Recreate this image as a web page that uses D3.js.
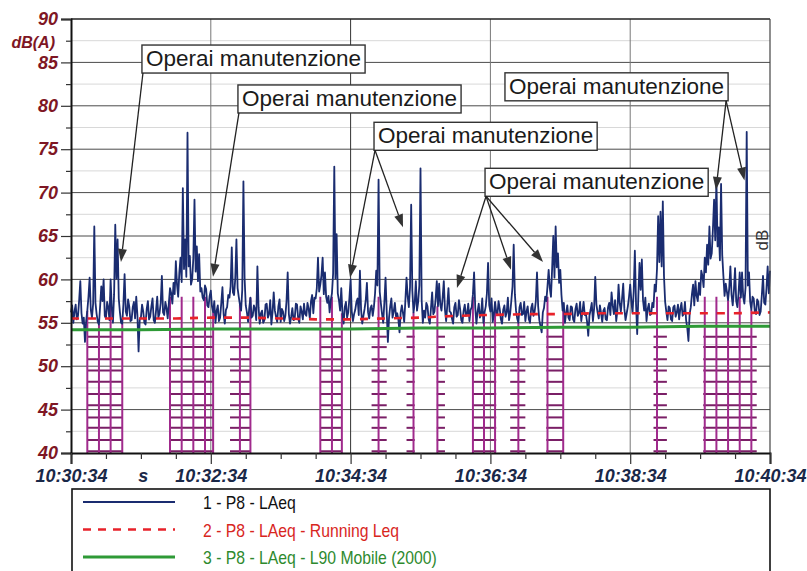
<!DOCTYPE html>
<html>
<head>
<meta charset="utf-8">
<script src="https://cdn.jsdelivr.net/npm/d3@7/dist/d3.min.js"></script>
<style>
  html, body { margin: 0; padding: 0; background: #fff; }
  svg { display: block; }
</style>
</head>
<body>
<svg id="chart" width="807" height="571"></svg>
<script>
// ---- data ---------------------------------------------------------------
// LAeq samples, one per second from 10:30:34 (20 per row)
const sampleStep = 1;
const laeq = [
  56.2, 57.0, 55.0, 56.3, 57.1, 55.4, 55.8, 57.6, 59.8, 56.1, 54.9, 55.6, 52.8, 55.2, 56.4, 58.0, 60.2, 56.5, 55.6, 57.2,
  66.1, 57.3, 56.0, 55.1, 54.8, 56.9, 59.2, 57.5, 60.0, 55.8, 55.5, 57.4, 56.8, 55.3, 60.0, 56.7, 55.0, 58.3, 66.3, 60.1,
  64.6, 57.8, 56.2, 55.0, 54.9, 57.2, 60.6, 56.3, 55.8, 57.7, 56.9, 55.2, 55.3, 56.8, 57.4, 55.5, 58.0, 55.9, 51.7, 55.4,
  55.6, 57.1, 56.3, 55.0, 54.8, 56.6, 57.5, 55.4, 55.7, 56.9, 57.8, 55.3, 55.0, 56.4, 58.0, 55.6, 56.1, 57.3, 60.4, 56.2,
  55.9, 57.4, 56.7, 55.5, 57.3, 59.0, 58.4, 57.2, 59.6, 58.3, 62.1, 59.4, 58.0, 60.8, 62.5, 59.7, 70.5, 61.2, 64.6, 60.3,
  76.9, 61.5, 62.7, 59.4, 60.0, 62.4, 69.2, 60.9, 63.8, 59.8, 62.9, 58.6, 59.0, 57.9, 57.6, 59.3, 58.9, 57.0, 56.8, 58.1,
  58.7, 56.9, 56.2, 57.5, 55.0, 56.4, 57.0, 55.2, 55.6, 57.3, 59.1, 56.0, 54.9, 56.5, 56.8, 58.2, 57.9, 59.2, 63.7, 58.5,
  58.2, 60.1, 64.6, 59.0, 58.0, 57.1, 56.4, 58.8, 71.3, 60.2, 57.0, 56.2, 55.1, 56.7, 57.9, 55.6, 55.8, 57.0, 56.6, 55.3,
  61.5, 56.8, 54.9, 56.1, 56.4, 55.0, 55.3, 57.1, 57.2, 55.6, 56.0, 57.6, 54.8, 56.2, 58.5, 56.4, 55.7, 55.1, 56.9, 57.7,
  55.1, 56.6, 56.3, 55.2, 55.8, 57.5, 60.8, 56.0, 54.9, 55.7, 56.7, 55.3, 55.4, 57.2, 57.1, 55.5, 55.0, 56.9, 56.3, 55.4,
  57.2, 56.0, 55.8, 57.3, 56.6, 55.5, 57.5, 58.2, 56.1, 57.9, 57.8, 59.0, 62.5, 58.6, 59.4, 60.5, 62.5, 58.3, 60.8, 58.0,
  57.3, 58.1, 56.2, 57.6, 58.4, 60.7, 73.0, 60.1, 65.2, 58.4, 57.6, 56.4, 59.0, 56.1, 54.9, 56.8, 57.4, 55.6, 56.2, 57.9,
  60.0, 56.3, 55.2, 56.0, 56.5, 57.4, 57.8, 55.9, 61.0, 56.5, 54.9, 55.8, 56.6, 57.6, 59.6, 56.2, 55.5, 56.7, 57.0, 55.8,
  56.8, 58.4, 61.0, 59.3, 71.5, 58.6, 57.2, 56.0, 55.0, 57.4, 60.2, 56.3, 52.8, 55.6, 56.9, 57.8, 55.6, 56.3, 57.3, 55.7,
  56.1, 55.4, 53.9, 56.2, 57.0, 56.1, 55.1, 57.5, 60.2, 58.0, 56.8, 59.1, 68.6, 58.7, 56.2, 57.2, 59.8, 56.4, 57.4, 59.3,
  72.8, 57.6, 55.0, 56.4, 55.6, 57.3, 56.9, 55.4, 54.9, 56.7, 58.5, 56.0, 56.3, 57.8, 59.8, 56.9, 59.5, 57.1, 56.4, 57.9,
  59.8, 56.5, 55.2, 57.0, 59.0, 56.3, 56.2, 55.5, 54.9, 56.8, 57.3, 55.7, 55.9, 57.6, 56.6, 55.3, 55.0, 56.4, 57.1, 55.8,
  56.0, 57.2, 55.2, 56.5, 56.8, 58.3, 60.8, 56.7, 54.9, 56.3, 57.2, 55.6, 56.1, 57.8, 55.0, 56.2, 56.9, 58.4, 61.9, 57.0,
  56.3, 57.8, 55.1, 56.0, 57.4, 56.2, 55.9, 57.5, 56.6, 55.4, 54.9, 56.5, 57.0, 55.7, 56.2, 57.9, 55.3, 56.1, 57.6, 59.2,
  64.0, 58.3, 56.4, 55.5, 55.0, 56.8, 57.3, 55.9, 56.0, 57.4, 55.2, 56.3, 56.9, 55.4, 55.0, 56.7, 57.2, 55.8, 56.3, 57.5,
  60.8, 56.9, 55.3, 54.6, 53.9, 56.2, 56.7, 58.0, 57.5, 59.2, 61.1, 59.0, 58.0, 61.3, 65.0, 60.2, 66.1, 61.4, 63.0, 59.6,
  61.1, 58.2, 56.4, 57.3, 55.0, 56.1, 57.0, 55.6, 55.3, 56.9, 56.8, 55.4, 55.1, 56.6, 57.2, 55.8, 56.1, 57.4, 55.2, 56.3,
  57.4, 55.9, 56.0, 55.1, 53.5, 55.8, 56.5, 57.3, 55.2, 56.6, 60.3, 57.1, 56.2, 55.5, 57.0, 56.1, 55.1, 56.4, 56.7, 55.4,
  55.3, 56.8, 57.3, 55.9, 58.5, 57.0, 56.0, 57.6, 55.2, 56.4, 59.4, 57.2, 56.3, 57.8, 59.5, 56.6, 55.3, 56.1, 56.9, 58.0,
  59.4, 57.5, 56.1, 58.6, 63.3, 57.2, 53.7, 58.1, 61.9, 58.8, 62.3, 57.6, 56.4, 57.9, 55.2, 56.6, 57.2, 55.9, 56.0, 57.3,
  56.8, 59.4, 58.6, 61.2, 67.3, 62.0, 67.8, 61.5, 69.0, 60.4, 57.4, 56.3, 55.3, 56.9, 56.7, 55.4, 55.2, 56.8, 57.0, 55.7,
  56.2, 57.1, 55.4, 56.6, 57.3, 55.8, 56.0, 57.4, 55.3, 54.4, 52.9, 56.0, 56.8, 58.3, 59.4, 57.0, 59.8, 58.1, 57.5, 59.6,
  58.2, 61.0, 60.4, 59.1, 62.5, 60.8, 64.0, 61.7, 66.1, 62.4, 63.0, 65.8, 69.2, 64.5, 71.5, 63.8, 66.0, 62.2, 71.0, 62.8,
  60.4, 58.1, 59.5, 58.6, 57.6, 59.0, 61.5, 58.2, 57.0, 58.7, 61.3, 57.5, 56.8, 58.4, 60.8, 57.9, 60.8, 58.0, 57.2, 59.1,
  77.0, 59.3, 60.8, 57.4, 56.5, 58.0, 57.8, 56.2, 56.0, 57.7, 57.4, 55.9, 56.3, 58.2, 60.4, 57.3, 57.1, 59.0, 61.5, 58.4,
  61.0
];

// Running Leq, one value every 30 s
const runningStep = 30;
const runningLeq = [55.5, 55.5, 55.5, 55.5, 55.6, 55.6, 55.5, 55.4, 55.4, 55.5,
                    55.6, 55.8, 55.9, 56.0, 56.0, 56.1, 56.1, 56.1, 56.1, 56.1, 56.2];

// L90 mobile, one value every 60 s
const l90Step = 60;
const l90 = [54.2, 54.2, 54.3, 54.3, 54.3, 54.4, 54.4, 54.5, 54.5, 54.6, 54.6];

// Marked periods (seconds from 10:30:34): span and the 10 s divisions inside
const markFrom  = [14, 85, 136.5, 214, 258, 288, 314, 345, 377, 408, 500, 542.7];
const markTo    = [44, 122, 154, 232.5, 271, 295, 321, 365, 390, 423, 511.5, 588.6];
const markLines = [[14, 24, 34, 44], [85, 95, 105, 115, 122], [145, 154], [214, 224, 232.5],
                   [264], [294], [314.5], [345, 354.5, 364], [384], [409, 422.5], [503],
                   [544, 554, 564, 574, 584]];
const markRungs = [40.2, 41.5, 42.9, 44.1, 45.5, 46.8, 48.2, 49.5, 50.8, 52.2, 53.4];

// Axes
const yTicks = [40, 45, 50, 55, 60, 65, 70, 75, 80, 85, 90];
const yMinor = [42.5, 47.5, 52.5, 57.5, 62.5, 67.5, 72.5, 77.5, 82.5, 87.5];
const xTicks = [0, 120, 240, 360, 480, 600];
const xTickLabels = ["10:30:34", "10:32:34", "10:34:34", "10:36:34", "10:38:34", "10:40:34"];
const xMinor = [30, 60, 90, 150, 180, 210, 270, 300, 330, 390, 420, 450, 510, 540, 570];

// Annotations: box top-left (s, dB), arrow origin side, arrow targets (s, dB)
const noteText = "Operai manutenzione";
const noteBoxAt = [[60.9, 87.0], [143.3, 82.4], [372.5, 83.8], [260.1, 78.1], [355.4, 72.8]];
const noteFrom = ["left", "left", "right", "left", "left"];
const noteTargets = [
  [[42.9, 62.0]],
  [[121.9, 60.3]],
  [[553.6, 70.3], [578.1, 71.4]],
  [[239.5, 60.2], [285.0, 66.0]],
  [[331.3, 59.0], [377.7, 61.1], [405.2, 62.0]]
];

const legendLabels = ["1 - P8 - LAeq", "2 - P8 - LAeq - Running Leq", "3 - P8 - LAeq - L90 Mobile (2000)"];

// ---- drawing ------------------------------------------------------------
const svg = d3.select("#chart");
const x = d3.scaleLinear().domain([0, 600]).range([71, 770]);
const y = d3.scaleLinear().domain([40, 90]).range([453, 19]);

const C = {
  blue: "#1a2c70", red: "#e8222a", green: "#2e9a36",
  mark: "#a02a8c", rung: "#7a1f66",
  yLab: "#7e1624", xLab: "#1a2848"
};

// grid
const grid = svg.append("g");
grid.selectAll(".hmin").data(yMinor).join("line")
  .attr("x1", x(0)).attr("x2", x(600))
  .attr("y1", d => y(d)).attr("y2", d => y(d))
  .attr("stroke", "#d8d8d8").attr("stroke-width", 1);
grid.selectAll(".hmaj").data(yTicks.slice(1, -1)).join("line")
  .attr("x1", x(0)).attr("x2", x(600))
  .attr("y1", d => y(d)).attr("y2", d => y(d))
  .attr("stroke", "#4a4a4a").attr("stroke-width", 1);
grid.selectAll(".vmaj").data(xTicks.slice(1, -1)).join("line")
  .attr("x1", d => x(d)).attr("x2", d => x(d))
  .attr("y1", y(40)).attr("y2", y(90))
  .attr("stroke", d => d === 240 ? "#333" : "#777").attr("stroke-width", 1);

// marked periods
const laeqAt = t => laeq[Math.min(laeq.length - 1, Math.round(t / sampleStep))];
const marks = svg.append("g");
markFrom.forEach((from, i) => {
  const g = marks.append("g");
  g.selectAll("line.r").data(markRungs).join("line")
    .attr("x1", x(from)).attr("x2", x(markTo[i]))
    .attr("y1", d => y(d)).attr("y2", d => y(d))
    .attr("stroke", C.rung).attr("stroke-width", 2);
  g.selectAll("line.v").data(markLines[i]).join("line")
    .attr("x1", d => x(d)).attr("x2", d => x(d))
    .attr("y1", y(40)).attr("y2", d => y(Math.min(laeqAt(d), 58)))
    .attr("stroke", C.mark).attr("stroke-width", 2);
});

// series
const lineL = d3.line().x((d, i) => x(i * sampleStep)).y(d => y(d));
svg.append("path").datum(laeq).attr("d", lineL)
  .attr("fill", "none").attr("stroke", C.blue).attr("stroke-width", 1.8)
  .attr("stroke-linejoin", "round");

const lineR = d3.line().x((d, i) => x(i * runningStep)).y(d => y(d));
svg.append("path").datum(runningLeq).attr("d", lineR)
  .attr("fill", "none").attr("stroke", C.red).attr("stroke-width", 2.6)
  .attr("stroke-dasharray", "8,9");

const lineG = d3.line().x((d, i) => x(i * l90Step)).y(d => y(d));
svg.append("path").datum(l90).attr("d", lineG)
  .attr("fill", "none").attr("stroke", C.green).attr("stroke-width", 3);

// frame
svg.append("line").attr("x1", x(0)).attr("x2", x(600)).attr("y1", y(90)).attr("y2", y(90))
  .attr("stroke", "#222").attr("stroke-width", 1.6);
svg.append("line").attr("x1", x(600)).attr("x2", x(600)).attr("y1", y(90)).attr("y2", y(40))
  .attr("stroke", "#444").attr("stroke-width", 1.2);

// axes
const fontB = "'Liberation Sans', Arial, sans-serif";
const yAxis = svg.append("g").attr("transform", `translate(${x(0)},0)`)
  .call(d3.axisLeft(y).tickValues(yTicks).tickSize(10).tickPadding(3).tickFormat(d3.format("d")));
svg.append("g").attr("transform", `translate(${x(0)},0)`)
  .call(d3.axisLeft(y).tickValues(yMinor).tickSize(5).tickFormat(""))
  .call(g => g.select(".domain").remove());
yAxis.select(".domain").attr("stroke", "#111").attr("stroke-width", 2);
yAxis.selectAll("text").attr("fill", C.yLab).attr("font-family", fontB)
  .attr("font-size", 18).attr("font-weight", "bold").attr("font-style", "italic");

const xAxis = svg.append("g").attr("transform", `translate(0,${y(40)})`)
  .call(d3.axisBottom(x).tickValues(xTicks).tickSize(11).tickPadding(5)
    .tickFormat((d, i) => xTickLabels[i]));
svg.append("g").attr("transform", `translate(0,${y(40)})`)
  .call(d3.axisBottom(x).tickValues(xMinor).tickSize(6).tickFormat(""))
  .call(g => g.select(".domain").remove());
xAxis.select(".domain").attr("stroke", "#111").attr("stroke-width", 2);
xAxis.selectAll("text").attr("fill", C.xLab).attr("font-family", fontB)
  .attr("font-size", 18).attr("font-weight", "bold").attr("font-style", "italic");
svg.selectAll(".tick line").attr("stroke", "#333").attr("stroke-width", 1.2);

svg.append("text").attr("x", 55).attr("y", 48).attr("text-anchor", "end")
  .attr("fill", C.yLab).attr("font-family", fontB).attr("font-size", 16)
  .attr("font-weight", "bold").attr("font-style", "italic").text("dB(A)");
svg.append("text").attr("x", x(62)).attr("y", 482).attr("text-anchor", "middle")
  .attr("fill", C.xLab).attr("font-family", fontB).attr("font-size", 18)
  .attr("font-weight", "bold").attr("font-style", "italic").text("s");

svg.append("text").attr("transform", `translate(768,240) rotate(-90)`)
  .attr("text-anchor", "middle").attr("fill", "#333").attr("font-family", fontB)
  .attr("font-size", 17).text("dB");

// annotations
const notes = svg.append("g");
noteBoxAt.forEach((p, i) => {
  const bx = x(p[0]), by = y(p[1]);
  const t = notes.append("text").attr("x", bx + 4).attr("y", by + 21)
    .attr("font-family", fontB).attr("font-size", 22.5).attr("fill", "#1a1a1a").text(noteText);
  const w = t.node().getComputedTextLength() + 8, h = 28;
  notes.insert("rect", "text").attr("x", bx).attr("y", by).attr("width", w).attr("height", h)
    .attr("fill", "#fff").attr("stroke", "#333").attr("stroke-width", 1.4);
  const ox = noteFrom[i] === "left" ? bx + 1 : bx + w - 2, oy = by + h;
  noteTargets[i].forEach(tg => {
    const tx = x(tg[0]), ty = y(tg[1]);
    const a = Math.atan2(ty - oy, tx - ox), L = 13, W = 4.5;
    const bx2 = tx - L * Math.cos(a), by2 = ty - L * Math.sin(a);
    notes.append("line").attr("x1", ox).attr("y1", oy).attr("x2", bx2).attr("y2", by2)
      .attr("stroke", "#222").attr("stroke-width", 1.3);
    const px = -Math.sin(a) * W, py = Math.cos(a) * W;
    notes.append("path")
      .attr("d", `M${tx},${ty}L${bx2 + px},${by2 + py}L${bx2 - px},${by2 - py}Z`)
      .attr("fill", "#333");
  });
});

// legend
svg.append("rect").attr("x", 72).attr("y", 489).attr("width", 698).attr("height", 100)
  .attr("fill", "#fff").attr("stroke", "#111").attr("stroke-width", 1.6);
const legColors = [C.blue, C.red, C.green];
const legText = ["#111", "#d8261e", "#2e8a2e"];
const legDash = [null, "8,7", null];
const legWidth = [1.8, 2.6, 3];
legendLabels.forEach((lab, i) => {
  const ly = 502 + i * 27.5;
  svg.append("line").attr("x1", 83).attr("x2", 175).attr("y1", ly).attr("y2", ly)
    .attr("stroke", legColors[i]).attr("stroke-width", legWidth[i])
    .attr("stroke-dasharray", legDash[i]);
  // condensed face: regular sans squeezed horizontally
  svg.append("text").attr("transform", `translate(203,${ly + 7}) scale(0.83,1)`)
    .attr("font-family", fontB).attr("font-size", 19).attr("fill", legText[i]).text(lab);
});
</script>
</body>
</html>
